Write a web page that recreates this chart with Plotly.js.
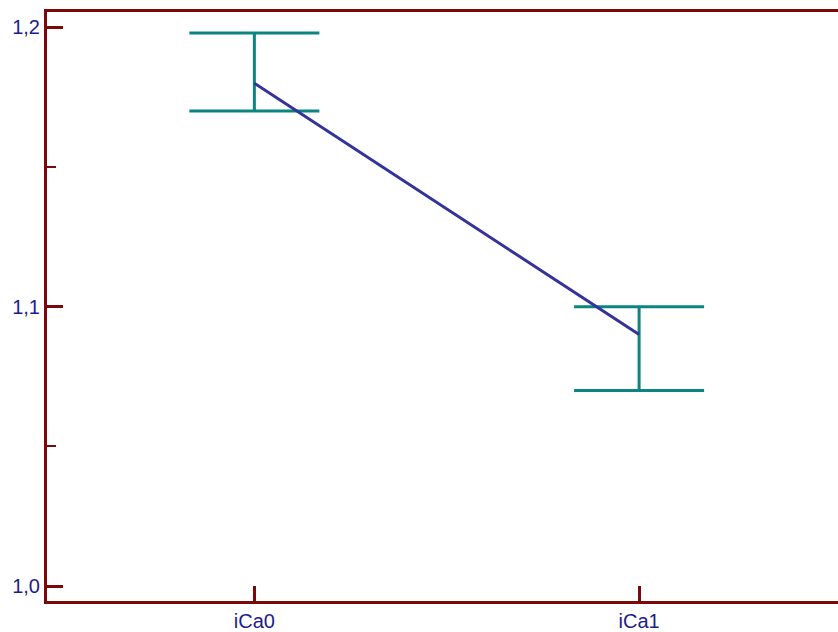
<!DOCTYPE html>
<html>
<head>
<meta charset="utf-8">
<script src="https://cdn.plot.ly/plotly-3.0.1.min.js"></script>
<style>html,body{margin:0;padding:0;background:#fff;}#chart{width:838px;height:632px;}</style>
</head>
<body>
<div id="chart"></div>
<script>
const categories = ["iCa0", "iCa1"];
const means = [1.18, 1.09];
const upper = [1.198, 1.10];
const lower = [1.17, 1.07];

const errPlus = means.map((m, i) => upper[i] - m);
const errMinus = means.map((m, i) => m - lower[i]);

const axisColor = "#7a0a0a";
const textColor = "#1c1c8c";

const trace = {
  x: categories,
  y: means,
  type: "scatter",
  mode: "lines",
  line: {color: "#33339a", width: 3},
  error_y: {
    type: "data",
    symmetric: false,
    array: errPlus,
    arrayminus: errMinus,
    color: "#0a8582",
    thickness: 3,
    width: 65
  },
  hoverinfo: "skip"
};

const layout = {
  width: 838,
  height: 632,
  margin: {l: 47, r: 0, t: 12, b: 31},
  paper_bgcolor: "#ffffff",
  plot_bgcolor: "#ffffff",
  showlegend: false,
  separators: ",.",
  font: {family: "Liberation Sans, Arial, sans-serif", size: 20, color: textColor},
  xaxis: {
    type: "category",
    range: [-0.539, 1.517],
    showgrid: false,
    zeroline: false,
    showline: true,
    linecolor: axisColor,
    linewidth: 3,
    mirror: true,
    ticks: "inside",
    ticklen: 15,
    tickwidth: 3,
    tickcolor: axisColor,
    tickfont: {size: 20, color: textColor}
  },
  yaxis: {
    range: [0.99463, 1.20548],
    tick0: 1.0,
    dtick: 0.1,
    tickformat: ".1f",
    showgrid: false,
    zeroline: false,
    showline: true,
    linecolor: axisColor,
    linewidth: 3,
    mirror: false,
    ticks: "inside",
    ticklen: 16,
    tickwidth: 3,
    tickcolor: axisColor,
    tickfont: {size: 20, color: textColor},
    minor: {
      tick0: 1.0,
      dtick: 0.05,
      ticks: "inside",
      ticklen: 9,
      tickwidth: 2,
      tickcolor: axisColor,
      showgrid: false
    }
  }
};

Plotly.newPlot("chart", [trace], layout, {displayModeBar: false, staticPlot: true});
</script>
</body>
</html>
